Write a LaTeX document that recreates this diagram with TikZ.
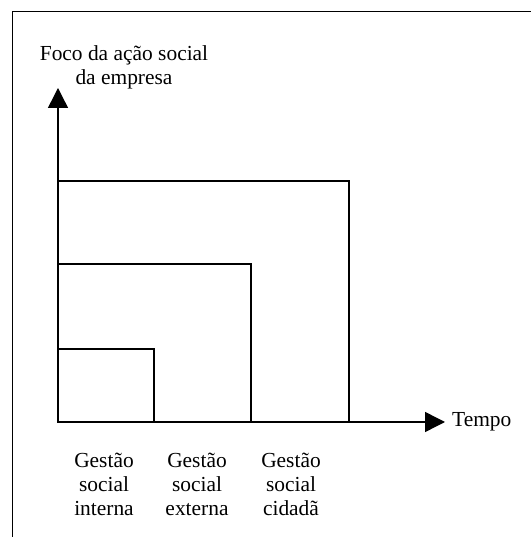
\documentclass[tikz,border=0pt]{standalone}
\usepackage{fontspec}
\setmainfont{Liberation Serif}
\usetikzlibrary{arrows.meta}
\tikzset{
  eixo/.style={line width=1.4bp,-{Triangle[length=20bp,width=20bp]}},
  caixa/.style={line width=1.2bp},
  rotulo/.style={align=center,inner sep=0pt,font=\fontsize{21.5}{24}\selectfont}
}

\begin{document}
\begin{tikzpicture}[x=1bp,y=1bp]
  \useasboundingbox (0,0) rectangle (531,537);
  % moldura (cortada a direita e embaixo)
  \draw[line width=1bp] (12,0) -- (12,525) -- (531,525);
  % eixos
  \coordinate (o) at (58,115);
  \coordinate (ytopo) at (58,449);
  \coordinate (xfim) at (445,115);
  \draw[caixa] (o) rectangle (154,188);
  \draw[caixa] (o) rectangle (251,273);
  \draw[caixa] (o) rectangle (349,356);
  \draw[eixo] (o) -- (ytopo);
  \draw[eixo] (o) -- (xfim);
  % rotulos
  \node[rotulo] (foco) at (124,470) {Foco da ação social\\da empresa};
  \node[rotulo,anchor=west] (tempo) at (452,115) {Tempo};
  \node[rotulo] (interna) at (104,53) {Gestão\\social\\interna};
  \node[rotulo] (externa) at (197,53) {Gestão\\social\\externa};
  \node[rotulo] (cidada) at (291,53) {Gestão\\social\\cidadã};
\end{tikzpicture}
\end{document}
